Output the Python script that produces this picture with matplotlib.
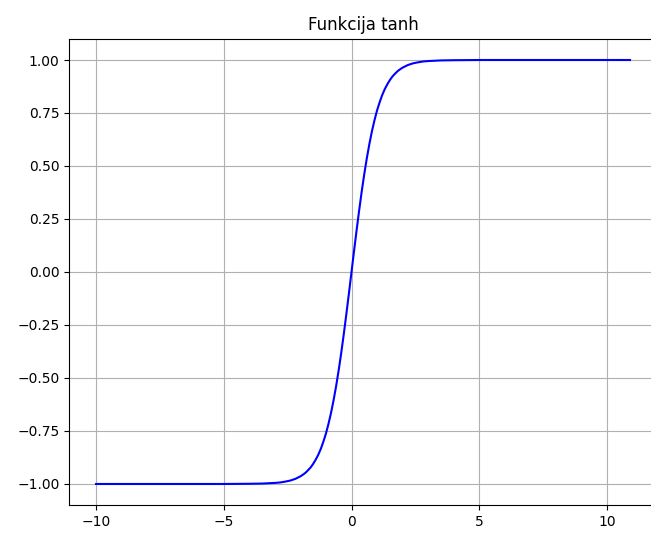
import matplotlib
matplotlib.use('Agg')
import matplotlib.pyplot as plt

# values (denser where it bends)
x_pos = [0.0, 0.1, 0.2, 0.3, 0.4, 0.5, 0.6, 0.7, 0.8, 0.9, 1.0, 1.1, 1.2, 1.3, 1.4,
         1.5, 1.6, 1.7, 1.8, 1.9, 2.0, 2.2, 2.4, 2.6, 2.8, 3.0, 3.5, 4.0, 5.0]
y_pos = [0.0, 0.0997, 0.197, 0.291, 0.380, 0.462, 0.537, 0.604, 0.664, 0.716, 0.762, 0.800,
         0.834, 0.862, 0.885, 0.905, 0.922, 0.935, 0.947, 0.956, 0.964, 0.976, 0.984, 0.989,
         0.993, 0.995, 0.998, 0.999, 1.0]

x_vals = [-10.0] + [-v for v in x_pos[:0:-1]] + x_pos + [10.9]
y_vals = [-1.0] + [-v for v in y_pos[:0:-1]] + y_pos + [1.0]

fig = plt.figure(figsize=(6.51, 5.33), dpi=100)
ax = fig.add_axes([69.3 / 651, 0.0522, 0.9023, 0.875])

ax.plot(x_vals, y_vals, color='b')
ax.set_title('Funkcija tanh')
ax.grid(True)

plt.savefig('out.png', dpi=100)
